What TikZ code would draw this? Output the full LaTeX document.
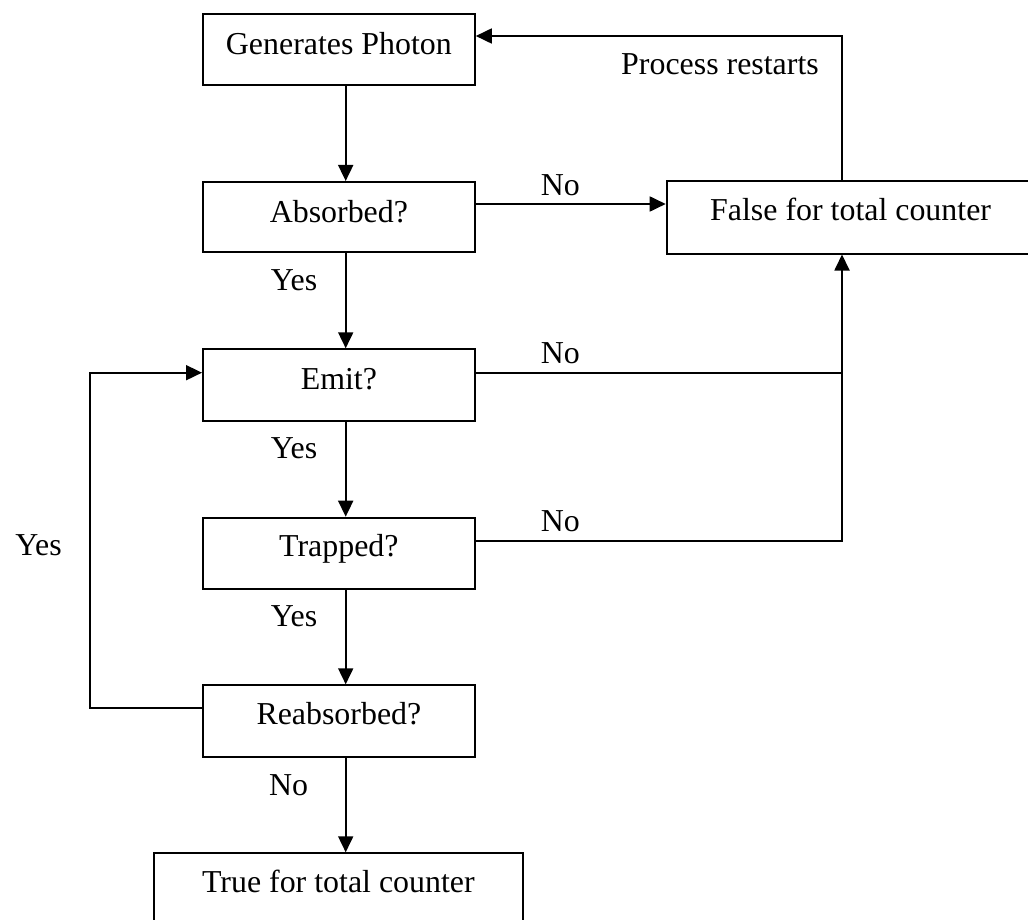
\documentclass[tikz,border=0pt]{standalone}
\usepackage{fontspec}
\setmainfont{Liberation Serif}
\usetikzlibrary{arrows.meta,calc}
\begin{document}
\begin{tikzpicture}[x=1pt,y=-1pt,
  every node/.style={font=\fontsize{31.9}{38}\selectfont},
  box/.style={draw, line width=1.8pt, inner sep=0pt, anchor=north west, minimum width=272pt},
  conn/.style={line width=1.8pt},
  arr/.style={line width=1.8pt, -{Triangle[length=16pt,width=15pt]}},
  lbl/.style={anchor=base, inner sep=0pt}]
\useasboundingbox (0,0) rectangle (1028,920);
% boxes
\node[box, text height=40.5pt, text depth=30.5pt] (GP) at (202,13) {Generates Photon};
\node[box, text height=41pt, text depth=29pt] (Abs) at (202,181) {Absorbed?};
\node[box, text height=40pt, text depth=31.7pt] (Emit) at (202,348.3) {Emit?};
\node[box, text height=39.3pt, text depth=32.3pt] (Trap) at (202,516.7) {Trapped?};
\node[box, text height=39.7pt, text depth=32pt] (Reab) at (202,684.3) {Reabsorbed?};
\node[box, minimum width=368.4pt, text height=39.4pt, text depth=34pt] (True) at (153.3,852.3) {True for total counter};
\node[box, minimum width=368pt, text height=40pt, text depth=32.7pt] (False) at (665.7,180) {False for total counter};
% helper coordinates
\coordinate (cx) at (345.7,0);
\coordinate (jx) at (842,0);
\coordinate (lx) at (90,0);
\coordinate (yTop) at (0,36);
\coordinate (yAbs) at (0,204);
\coordinate (yEmit) at (0,372.7);
\coordinate (yTrap) at (0,540.7);
\coordinate (yReab) at (0,708.3);
% vertical chain
\draw[arr] (GP.south -| cx) -- (Abs.north -| cx);
\draw[arr] (Abs.south -| cx) -- (Emit.north -| cx);
\draw[arr] (Emit.south -| cx) -- (Trap.north -| cx);
\draw[arr] (Trap.south -| cx) -- (Reab.north -| cx);
\draw[arr] (Reab.south -| cx) -- (True.north -| cx);
% No branches
\draw[arr] (Abs.east |- yAbs) -- (False.west |- yAbs);
\draw[conn] (Emit.east |- yEmit) -- (jx |- yEmit);
\draw[arr] (Trap.east |- yTrap) -- (jx |- yTrap) -- (False.south -| jx);
% restart
\draw[arr] (False.north -| jx) -- (jx |- yTop) -- (GP.east |- yTop);
% loop back
\draw[arr] (Reab.west |- yReab) -- (lx |- yReab) -- (lx |- yEmit) -- (Emit.west |- yEmit);
% labels
\node[lbl] (lYes1) at (294,290) {Yes};
\node[lbl] (lYes2) at (294,458.3) {Yes};
\node[lbl] (lYes3) at (294,626.7) {Yes};
\node[lbl] (lNo4) at (288.5,795) {No};
\node[lbl] (lNo1) at (560.4,195.5) {No};
\node[lbl] (lNo2) at (560.4,363.3) {No};
\node[lbl] (lNo3) at (560.4,531.7) {No};
\node[lbl] (lYesL) at (38.5,555) {Yes};
\node[lbl] (lRestart) at (720,75) {Process restarts};
\end{tikzpicture}
\end{document}
